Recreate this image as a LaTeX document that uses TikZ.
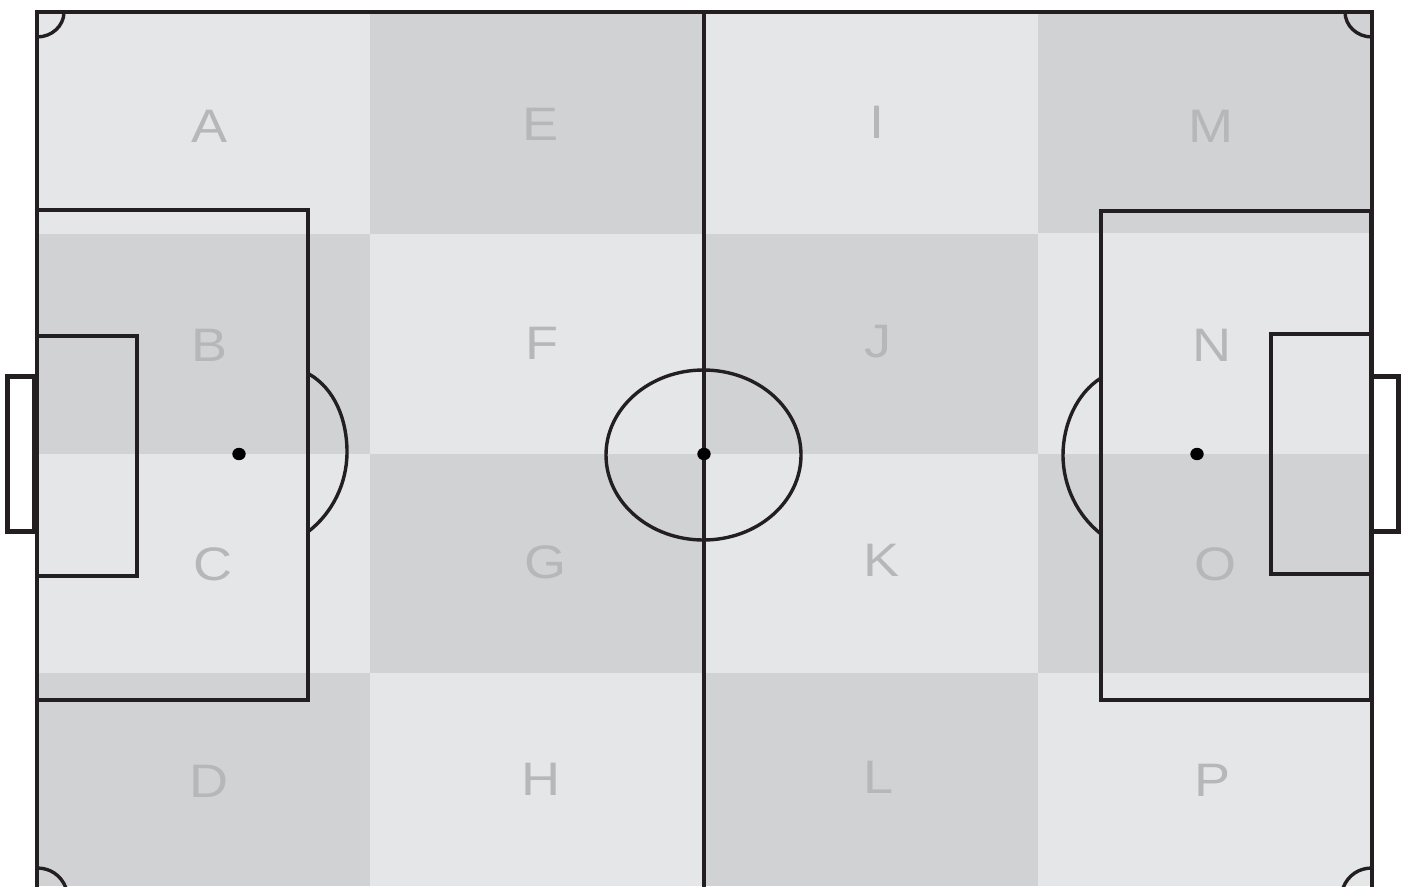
\documentclass[tikz,border=0pt]{standalone}
\usepackage{fontspec}
\setmainfont{Liberation Sans}
\definecolor{lightcell}{HTML}{E5E6E8}
\definecolor{darkcell}{HTML}{D1D2D4}
\definecolor{ink}{HTML}{231F20}
\definecolor{letter}{HTML}{B6B7B9}
\tikzset{
  lightfill/.style={fill=lightcell,draw=none},
  darkfill/.style={fill=darkcell,draw=none},
  thinline/.style={draw=ink,line width=3.4pt},
  thickline/.style={draw=ink,line width=4.5pt},
  goalline/.style={draw=ink,line width=4.8pt},
  spot/.style={fill=black,draw=none},
  zone/.style={text=letter,inner sep=0pt,font=\fontsize{47}{47}\selectfont,xscale=1.15}
}
\begin{document}
\begin{tikzpicture}[x=1pt,y=-1pt]
\useasboundingbox (0,0) rectangle (1407,886);
\fill[white] (0,0) rectangle (1407,886);
% cells
\path[lightfill] (37,12) rectangle (370,234);
\path[darkfill] (37,234) rectangle (370,454);
\path[lightfill] (37,454) rectangle (370,673);
\path[darkfill] (37,673) rectangle (370,886);
\path[darkfill] (370,12) rectangle (704,234);
\path[lightfill] (370,234) rectangle (704,454);
\path[darkfill] (370,454) rectangle (704,673);
\path[lightfill] (370,673) rectangle (704,886);
\path[lightfill] (704,12) rectangle (1038,234);
\path[darkfill] (704,234) rectangle (1038,454);
\path[lightfill] (704,454) rectangle (1038,673);
\path[darkfill] (704,673) rectangle (1038,886);
\path[darkfill] (1038,12) rectangle (1372,233);
\path[lightfill] (1038,233) rectangle (1372,454);
\path[darkfill] (1038,454) rectangle (1372,673);
\path[lightfill] (1038,673) rectangle (1372,886);
% letters
\node[zone] (A) at (209.5,126) {A};
\node[zone] (B) at (209.5,345) {B};
\node[zone] (C) at (213.5,564) {C};
\node[zone] (D) at (209.5,781) {D};
\node[zone] (E) at (540.5,124) {E};
\node[zone] (F) at (541.5,343) {F};
\node[zone] (G) at (546,562) {G};
\node[zone] (H) at (541.5,779) {H};
\node[zone] (I) at (876.5,122) {I};
\node[zone] (J) at (877.5,342) {J};
\node[zone] (K) at (882,560) {K};
\node[zone] (L) at (878.5,777) {L};
\node[zone] (M) at (1210.5,126) {M};
\node[zone] (N) at (1212,345) {N};
\node[zone] (O) at (1216,564) {O};
\node[zone] (P) at (1213,780) {P};
% pitch
\draw[thickline] (37,892) -- (37,12) -- (1372,12) -- (1372,892);
\draw[thickline] (704,12) -- (704,892);
\draw[thinline] (703.5,455) ellipse [x radius=97.5,y radius=85];
% penalty areas
\draw[thinline] (37,210) rectangle (308,700);
\draw[thinline] (37,336) rectangle (137,576);
\draw[thinline] (1371,211) rectangle (1101,700);
\draw[thinline] (1371,334) rectangle (1271,574);
% goals
\draw[goalline] (37,376.8) -- (7.5,376.8) -- (7.5,531.5) -- (37,531.5);
\draw[goalline] (1372,376.6) -- (1398.6,376.6) -- (1398.6,531.4) -- (1372,531.4);
\draw[line width=7.3pt,draw=ink] (35.6,374.4) -- (35.6,533.9);
% penalty arcs
\draw[thinline] (309,374) .. controls (335,389) and (347,420) .. (347,452) .. controls (347,484) and (332,513) .. (309,531);
\draw[thinline] (1101,378) .. controls (1077,393) and (1063,424) .. (1063,455) .. controls (1063,487) and (1078,516) .. (1101,534);
% corners
\draw[thinline] (64,12) arc [start angle=0,end angle=90,x radius=27,y radius=25];
\draw[thinline] (1345,12) arc [start angle=180,end angle=90,x radius=27,y radius=25];
\draw[thinline] (37,868) .. controls (50,868) and (61,875) .. (66,888);
\draw[thinline] (1372,868) .. controls (1359,868) and (1348,875) .. (1343,888);
% spots
\fill[spot] (239,454) ellipse [x radius=6.7,y radius=6.2];
\fill[spot] (704,454) ellipse [x radius=6.7,y radius=6.2];
\fill[spot] (1197,454) ellipse [x radius=6.7,y radius=6.2];
\end{tikzpicture}
\end{document}
